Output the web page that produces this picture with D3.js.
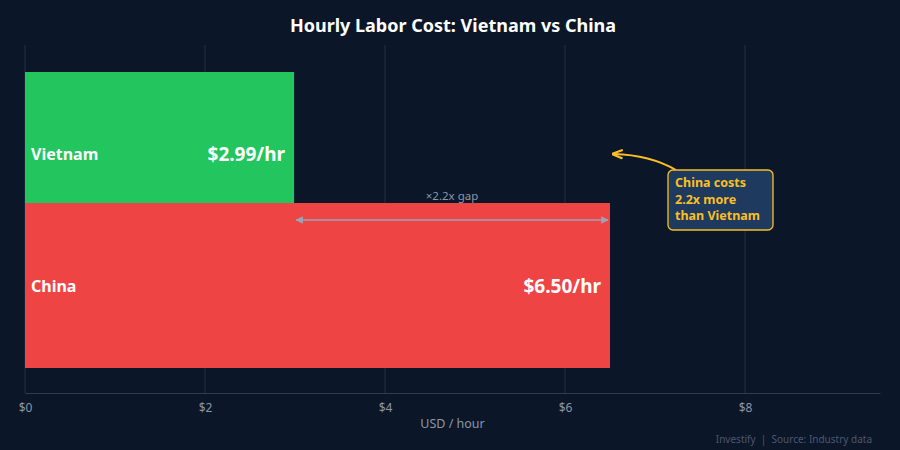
<!DOCTYPE html>
<html lang="en">
<head>
<meta charset="UTF-8">
<script src="https://d3js.org/d3.v7.min.js"></script>
<style>
  body { margin: 0; background: #0b1628; }
  svg { font-family: "Noto Sans", sans-serif; display: block; }
</style>
</head>
<body>
<div id="chart"></div>
<script>
const countries = ["Vietnam", "China"];
const costs = [2.99, 6.50];
const barColors = ["#22c55e", "#ef4444"];
const tickValues = [0, 2, 4, 6, 8];

const width = 900, height = 450;
const svg = d3.select("#chart").append("svg")
  .attr("width", width).attr("height", height);

svg.append("rect").attr("width", width).attr("height", height).attr("fill", "#0b1628");

const x = d3.scaleLinear().domain([0, 9.5]).range([25, 880]);
const y = d3.scaleBand().domain(countries).range([38, 368]).paddingInner(0);
const plotTop = 45, barTop = 72, plotBottom = 393;

svg.append("text").attr("x", 453).attr("y", 32).attr("text-anchor", "middle")
  .attr("fill", "#ffffff").attr("font-size", 18).attr("font-weight", "bold")
  .text("Hourly Labor Cost: Vietnam vs China");

// gridlines
svg.append("g").selectAll("line").data(tickValues).join("line")
  .attr("x1", d => x(d)).attr("x2", d => x(d))
  .attr("y1", plotTop).attr("y2", plotBottom)
  .attr("stroke", "#223047").attr("stroke-width", 1);

// axis
const axis = svg.append("g").attr("transform", `translate(0,${plotBottom})`)
  .call(d3.axisBottom(x).tickValues(tickValues).tickFormat(d => "$" + d).tickSize(0).tickPadding(10));
axis.attr("font-size", null).attr("font-family", null);
axis.select(".domain").attr("stroke", "#2e3b52");
axis.selectAll("text").attr("fill", "#8a96a8").style("font-size", "12px");

svg.append("text").attr("x", x(4.75)).attr("y", 428).attr("text-anchor", "middle")
  .attr("fill", "#8a96a8").attr("font-size", 12.5).text("USD / hour");

svg.append("defs").append("clipPath").attr("id", "barclip")
  .append("rect").attr("x", 0).attr("y", barTop).attr("width", width).attr("height", plotBottom - barTop);

const data = countries.map((c, i) => ({ c, v: costs[i], color: barColors[i] }));
const bars = svg.append("g").attr("clip-path", "url(#barclip)");
bars.selectAll("rect").data(data).join("rect")
  .attr("x", x(0)).attr("y", d => y(d.c))
  .attr("width", d => x(d.v) - x(0)).attr("height", y.bandwidth())
  .attr("fill", d => d.color);

// label line: lower part of the first (clipped) bar, centre of the others
const labelY = (d, i) => (i === 0 ? y(d.c) + y.bandwidth() * 0.7 : y(d.c) + y.bandwidth() / 2);
svg.append("g").selectAll("text").data(data).join("text")
  .attr("x", x(0) + 6).attr("y", (d, i) => labelY(d, i) + 6)
  .attr("fill", "#fff").attr("font-size", 16).attr("font-weight", "bold").text(d => d.c);
svg.append("g").selectAll("text").data(data).join("text")
  .attr("x", d => x(d.v) - 9).attr("y", (d, i) => labelY(d, i) + 7).attr("text-anchor", "end")
  .attr("fill", "#fff").attr("font-size", 19).attr("font-weight", "bold")
  .text(d => "$" + d.v.toFixed(2) + "/hr");

// gap arrow
const gy = y("China") + 17;
const defs = svg.select("defs");
defs.append("marker").attr("id", "ah").attr("viewBox", "0 0 10 10").attr("refX", 9).attr("refY", 5)
  .attr("markerWidth", 5).attr("markerHeight", 5).attr("orient", "auto-start-reverse")
  .append("path").attr("d", "M0,0L10,5L0,10z").attr("fill", "#9aa5b8");
svg.append("line").attr("x1", x(costs[0]) + 2).attr("x2", x(costs[1]) - 2)
  .attr("y1", gy).attr("y2", gy).attr("stroke", "#9aa5b8").attr("stroke-width", 1.5)
  .attr("marker-start", "url(#ah)").attr("marker-end", "url(#ah)");
svg.append("text").attr("x", (x(costs[0]) + x(costs[1])) / 2).attr("y", gy - 20)
  .attr("text-anchor", "middle").attr("fill", "#8a96a8").attr("font-size", 11.5)
  .text("\u00d72.2x gap");

// callout
defs.append("marker").attr("id", "ah2").attr("viewBox", "0 0 10 10").attr("refX", 8).attr("refY", 5)
  .attr("markerWidth", 6).attr("markerHeight", 6).attr("orient", "auto")
  .append("path").attr("d", "M0,1L10,5L0,9").attr("fill", "none").attr("stroke", "#fbbf24").attr("stroke-width", 2);
svg.append("path").attr("d", "M676,170 Q650,155 614,154").attr("fill", "none")
  .attr("stroke", "#fbbf24").attr("stroke-width", 1.8).attr("marker-end", "url(#ah2)");
svg.append("rect").attr("x", 668).attr("y", 170).attr("width", 105).attr("height", 60).attr("rx", 5)
  .attr("fill", "#1e3a5f").attr("stroke", "#fbbf24").attr("stroke-width", 1.3);
["China costs", "2.2x more", "than Vietnam"].forEach((t, i) => {
  svg.append("text").attr("x", 675).attr("y", 187 + i * 16.5).attr("fill", "#fbbf24")
    .attr("font-size", 12.5).attr("font-weight", "bold").text(t);
});

svg.append("text").attr("x", 872).attr("y", 443).attr("text-anchor", "end")
  .attr("fill", "#4b5870").attr("font-size", 10).attr("xml:space", "preserve")
  .text("Investify  |  Source: Industry data");
</script>
</body>
</html>
